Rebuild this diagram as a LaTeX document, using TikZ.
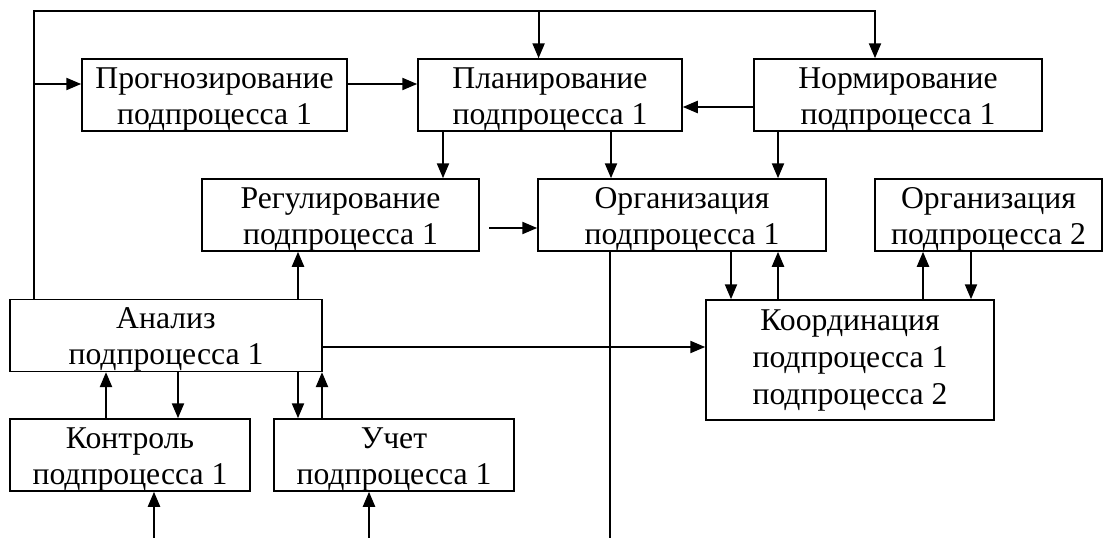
\documentclass[tikz,border=0pt]{standalone}
\usepackage{fontspec}
\setmainfont{Liberation Serif}
\usetikzlibrary{arrows.meta}
\newcommand{\tallstrut}{\rule{0pt}{29pt}}
\begin{document}
\begin{tikzpicture}[x=1pt,y=-1pt,
 box/.style={draw, line width=1.5pt, inner sep=0pt, align=center,
   font=\fontsize{31.7}{36}\selectfont, minimum height=72pt},
 arr/.style={line width=2.2pt, -{Triangle[length=15pt,width=12pt]}},
 thinline/.style={line width=1.4pt}]
\useasboundingbox (0,0) rectangle (1104,538);
% boxes
\node[box, minimum width=265pt] (prog) at (214.5,95) {\tallstrut Прогнозирование\\подпроцесса 1};
\node[box, minimum width=264pt] (plan) at (550,95) {\tallstrut Планирование\\подпроцесса 1};
\node[box, minimum width=288pt] (norm) at (898,95) {\tallstrut Нормирование\\подпроцесса 1};
\node[box, minimum width=277pt] (reg) at (340.5,215) {\tallstrut Регулирование\\подпроцесса 1};
\node[box, minimum width=288pt] (org1) at (682,215) {\tallstrut Организация\\подпроцесса 1};
\node[box, minimum width=227pt] (org2) at (988.5,215) {\tallstrut Организация\\подпроцесса 2};
\node[box, minimum width=312pt, minimum height=71pt] (anal) at (166,335.5) {\tallstrut Анализ\\подпроцесса 1};
\node[box, minimum width=288pt, minimum height=120pt,
   font=\fontsize{31.7}{37}\selectfont] (coord) at (850,360) {Координация\\подпроцесса 1\\подпроцесса 2};
\node[box, minimum width=240pt] (kontr) at (130,455) {\tallstrut Контроль\\подпроцесса 1};
\node[box, minimum width=240pt] (uchet) at (394,455) {\tallstrut Учет\\подпроцесса 1};
% helper coordinates
\coordinate (tl) at (34,11);
\coordinate (tr) at (875,11);
\coordinate (tp) at (538.6,11);
\coordinate (lp) at (34,84);
\coordinate (y107) at (0,107);
\coordinate (y347) at (0,347);
\coordinate (rs) at (489,228);
\coordinate (b1) at (154,538);
\coordinate (b2) at (369,538);
\coordinate (b3) at (610,538);
\coordinate (x443) at (443,0);
\coordinate (x611) at (611,0);
\coordinate (x778) at (778,0);
\coordinate (x298) at (298,0);
\coordinate (x731) at (731,0);
\coordinate (x923) at (923,0);
\coordinate (x971) at (971,0);
\coordinate (x106) at (106,0);
\coordinate (x178) at (178,0);
\coordinate (x322) at (322,0);
% connectors
\draw[arr] (anal.north -| tl) -- (tl) -- (tr) -- (norm.north -| tr);
\draw[arr] (tp) -- (plan.north -| tp);
\draw[arr] (lp) -- (prog.west |- lp);
\draw[arr] (prog.east |- lp) -- (plan.west |- lp);
\draw[arr] (norm.west |- y107) -- (plan.east |- y107);
\draw[arr] (plan.south -| x443) -- (reg.north -| x443);
\draw[arr] (plan.south -| x611) -- (org1.north -| x611);
\draw[arr] (norm.south -| x778) -- (org1.north -| x778);
\draw[arr] (rs) -- (org1.west |- rs);
\draw[arr] (anal.north -| x298) -- (reg.south -| x298);
\draw[thinline] (org1.south -| b3) -- (b3);
\draw[arr] (anal.east |- y347) -- (coord.west |- y347);
\draw[arr] (org1.south -| x731) -- (coord.north -| x731);
\draw[arr] (coord.north -| x778) -- (org1.south -| x778);
\draw[arr] (coord.north -| x923) -- (org2.south -| x923);
\draw[arr] (org2.south -| x971) -- (coord.north -| x971);
\draw[arr] (kontr.north -| x106) -- (anal.south -| x106);
\draw[arr] (anal.south -| x178) -- (kontr.north -| x178);
\draw[arr] (anal.south -| x298) -- (uchet.north -| x298);
\draw[arr] (uchet.north -| x322) -- (anal.south -| x322);
\draw[arr] (b1) -- (kontr.south -| b1);
\draw[arr] (b2) -- (uchet.south -| b2);
\end{tikzpicture}
\end{document}
